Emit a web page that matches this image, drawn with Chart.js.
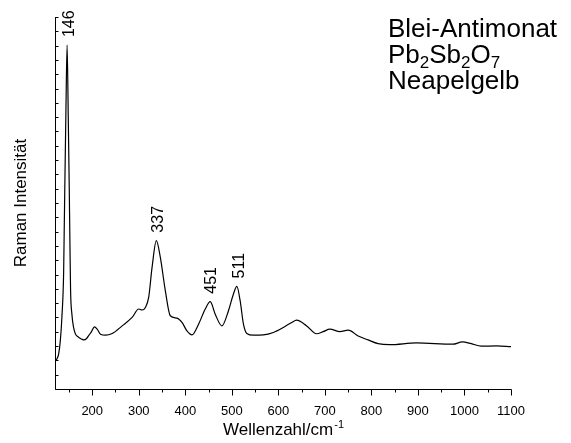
<!DOCTYPE html>
<html>
<head>
<meta charset="utf-8">
<style>
  html, body { margin: 0; padding: 0; background: #fff; }
  #wrap { width: 571px; height: 443px; position: relative; }
</style>
</head>
<body>
<div id="wrap"><canvas id="ramanChart"></canvas></div>

<script src="https://cdn.jsdelivr.net/npm/chart.js"></script>
<script>
    const FONT = '"Liberation Sans", Arial, sans-serif';

    // Raman spectrum, wavenumber (cm-1) and intensity (arb. units, one unit per y tick)
    const waves = [120, 124, 127.8, 131.4, 134.8, 138.5, 140, 143.5, 146, 148.5, 150.7, 152, 153.5, 156.3, 159.9,
        164.2, 167, 171.3, 177.7, 182, 188.4, 192.7, 197.9, 204.9, 210.7, 217.8, 228.5, 242.9, 264.3, 285.7,
        299.9, 307.2, 314.3, 321.3, 328.6, 337.8, 346.4, 357.1, 367.8, 382.2, 392.9, 403.6, 414.4, 428.5,
        442.9, 453.6, 464.3, 478.7, 492.8, 503.5, 510.8, 517.9, 525, 532.3, 546.4, 567.8, 589.3, 610.7,
        628.7, 639.4, 660.9, 682.3, 696.5, 710.8, 732.3, 750.1, 771.5, 792.9, 814.4, 839.5, 896.7, 975.1,
        995.3, 1014.6, 1036, 1068.2, 1100];
    const intensity = [1.9, 2.1, 2.43, 3.36, 5.0, 8.06, 11.57, 19.5, 24.04, 19.0, 13.88, 10.37, 6.87, 5.23, 4.3,
        3.83, 3.71, 3.6, 3.48, 3.43, 3.55, 3.75, 3.98, 4.34, 4.18, 3.83, 3.76, 3.88, 4.41, 5.0,
        5.59, 5.52, 5.7, 6.4, 8.5, 10.37, 9.2, 6.87, 5.12, 4.95, 4.65, 4.06, 3.78, 4.53,
        5.59, 6.1, 5.23, 4.41, 5.47, 6.64, 7.17, 6.17, 4.53, 3.88, 3.76, 3.78, 3.95, 4.3,
        4.65, 4.81, 4.41, 3.86, 4.01, 4.18, 4.01, 4.11, 3.71, 3.43, 3.17, 3.1, 3.22, 3.13,
        3.29, 3.17, 2.99, 3.01, 2.96];

    const xTicks = [200, 300, 400, 500, 600, 700, 800, 900, 1000, 1100];
    const xMinorTicks = [150, 250, 350, 450, 550, 650, 750, 850, 950, 1050];
    const yTicks = Array.from({ length: 27 }, (_, i) => i);

    const peakWaves = [146, 337, 451, 511];
    const peakTops = [24.04, 10.37, 6.1, 7.17];
    const peakLabels = ["146", "337", "451", "511"];

    const decor = {
        id: "decor",
        afterDraw(chart) {
            const { ctx, chartArea: a, scales: { x, y } } = chart;
            ctx.save();
            ctx.strokeStyle = "#000";
            ctx.lineWidth = 1;
            ctx.beginPath();
            const L = Math.round(a.left) + 0.5, B = Math.round(a.bottom) + 0.5;
            ctx.moveTo(L, a.top); ctx.lineTo(L, B); ctx.lineTo(Math.round(a.right) + 0.5, B);
            yTicks.forEach(v => { const py = Math.round(y.getPixelForValue(v)) + 0.5; ctx.moveTo(L, py); ctx.lineTo(L + 3, py); });
            xTicks.forEach(v => { const px = Math.round(x.getPixelForValue(v)) + 0.5; ctx.moveTo(px, B); ctx.lineTo(px, B + 6); });
            xMinorTicks.forEach(v => { const px = Math.round(x.getPixelForValue(v)) + 0.5; ctx.moveTo(px, B); ctx.lineTo(px, B + 3); });
            ctx.stroke();

            ctx.fillStyle = "#000";
            // peak labels
            ctx.font = "16px " + FONT;
            ctx.textAlign = "left"; ctx.textBaseline = "middle";
            peakWaves.forEach((w, i) => {
                ctx.save();
                ctx.translate(x.getPixelForValue(w) + 2.5, y.getPixelForValue(peakTops[i]) - 8);
                ctx.rotate(-Math.PI / 2);
                ctx.fillText(peakLabels[i], 0, 0);
                ctx.restore();
            });

            // y title
            ctx.save();
            ctx.font = "17px " + FONT;
            ctx.textAlign = "center"; ctx.textBaseline = "middle";
            ctx.translate(21, (a.top + a.bottom) / 2);
            ctx.rotate(-Math.PI / 2);
            ctx.fillText("Raman Intensität", 0, 0);
            ctx.restore();

            // x title with superscript
            ctx.textBaseline = "alphabetic"; ctx.textAlign = "left";
            ctx.font = "17px " + FONT;
            const main = "Wellenzahl/cm", wMain = ctx.measureText(main).width;
            ctx.font = "11px " + FONT;
            const wSup = ctx.measureText("-1").width;
            let tx = (a.left + a.right) / 2 - (wMain + wSup) / 2;
            ctx.font = "17px " + FONT;
            ctx.fillText(main, tx, 435);
            ctx.font = "11px " + FONT;
            ctx.fillText("-1", tx + wMain + 1, 428);

            // sample block
            ctx.font = "26px " + FONT;
            ctx.fillText("Blei-Antimonat", 388, 37);
            ctx.fillText("Neapelgelb", 388, 89);
            let fx = 388;
            [["Pb", 0], ["2", 1], ["Sb", 0], ["2", 1], ["O", 0], ["7", 1]].forEach(([t, sub]) => {
                ctx.font = (sub ? "17px " : "26px ") + FONT;
                ctx.fillText(t, fx, sub ? 68 : 63);
                fx += ctx.measureText(t).width;
            });
            ctx.restore();
        }
    };

    new Chart(document.getElementById("ramanChart"), {
        type: "line",
        data: {
            datasets: [{
                data: waves.map((w, i) => ({ x: w, y: intensity[i] })),
                borderColor: "#000", borderWidth: 1.2, pointRadius: 0, fill: false,
                cubicInterpolationMode: "monotone"
            }]
        },
        options: {
            responsive: true, maintainAspectRatio: false, animation: false,
            layout: { padding: { top: 17, right: 60, left: 0, bottom: 0 } },
            plugins: { legend: { display: false }, tooltip: { enabled: false } },
            scales: {
                x: {
                    type: "linear", min: 120, max: 1100,
                    grid: { display: false }, border: { display: false },
                    afterBuildTicks: s => { s.ticks = xTicks.map(v => ({ value: v })); },
                    afterFit: s => { s.height = 54; },
                    ticks: {
                        color: "#000", font: { family: FONT, size: 13 }, padding: 7, maxRotation: 0, autoSkip: false,
                        callback: v => String(v)
                    }
                },
                y: {
                    min: 0, max: 26,
                    grid: { display: false }, border: { display: false },
                    ticks: { display: false },
                    afterFit: s => { s.width = 55; }
                }
            }
        },
        plugins: [decor]
    });
</script>
</body>
</html>
